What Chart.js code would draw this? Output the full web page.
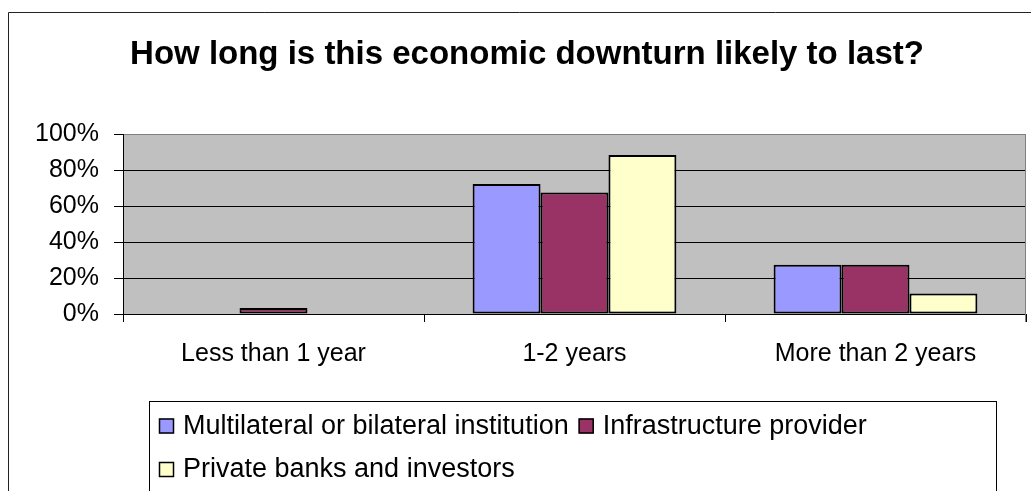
<!DOCTYPE html>
<html>
<head>
<meta charset="utf-8">
<title>How long is this economic downturn likely to last?</title>
<script src="https://cdn.jsdelivr.net/npm/chart.js@4"></script>
<style>
    body { margin: 0; background: #ffffff; }
    #wrap { width: 1031px; height: 491px; position: relative; }
</style>
</head>
<body>
<div id="wrap"><canvas id="bar-chart"></canvas></div>
<script>
// datos del grafico
const categories = ['Less than 1 year', '1-2 years', 'More than 2 years'];
const seriesNames = ['Multilateral or bilateral institution', 'Infrastructure provider', 'Private banks and investors'];
const multilateral = [0, 72.5, 27.5];
const infrastructure = [3.3, 67.7, 27.5];
const privateBanks = [0, 88.6, 11.4];
const yTickLabels = ['0%', '20%', '40%', '60%', '80%', '100%'];
const seriesColors = ['#9999FF', '#993366', '#FFFFCC'];

const FONT = 'Arial, "Liberation Sans", sans-serif';

// fondo gris del area de trazado y marco exterior
const plotFrame = {
    id: 'plotFrame',
    beforeDraw(chart) {
        const ctx = chart.ctx;
        const a = chart.chartArea;
        ctx.save();
        ctx.fillStyle = '#C0C0C0';
        ctx.fillRect(a.left, a.top, a.right - a.left, a.bottom - a.top);
        // marco del grafico (cortado a la derecha y abajo)
        ctx.strokeStyle = '#222222';
        ctx.lineWidth = 1;
        ctx.beginPath();
        ctx.moveTo(8.5, chart.height);
        ctx.lineTo(8.5, 12.5);
        ctx.lineTo(chart.width, 12.5);
        ctx.stroke();
        ctx.restore();
    },
    afterDatasetsDraw(chart) {
        const ctx = chart.ctx;
        const a = chart.chartArea;
        ctx.save();
        ctx.strokeStyle = '#808080';
        ctx.lineWidth = 1;
        ctx.beginPath();
        ctx.moveTo(Math.round(a.right) - 0.5, a.top);
        ctx.lineTo(Math.round(a.right) - 0.5, a.bottom + 8);
        ctx.stroke();
        ctx.restore();
    }
};

// leyenda con recuadro, como en Excel
const legendBox = {
    id: 'legendBox',
    afterDraw(chart) {
        const ctx = chart.ctx;
        ctx.save();
        ctx.strokeStyle = '#000000';
        ctx.lineWidth = 1;
        ctx.strokeRect(149.5, 401.5, 847, 200);
        ctx.font = '27px ' + FONT;
        ctx.textBaseline = 'middle';
        let x = 159, y = 425.5;
        chart.data.datasets.forEach(function (ds) {
            const w = ctx.measureText(ds.label).width;
            if (x + 24 + w > 990) { x = 159; y += 43.5; }
            ctx.fillStyle = ds.backgroundColor;
            ctx.fillRect(x, y - 7, 15, 15);
            ctx.lineWidth = 1.5;
            ctx.strokeStyle = '#000000';
            ctx.strokeRect(x + 0.5, y - 6.5, 14, 14);
            ctx.fillStyle = '#000000';
            ctx.fillText(ds.label, x + 24, y + 1);
            x += 24 + w + 10;
        });
        ctx.restore();
    }
};

function bar_report() {
    var canvas = document.getElementById('bar-chart');
    var ctx = canvas.getContext('2d');
    var series = [multilateral, infrastructure, privateBanks];
    var chart = new Chart(ctx, {
        type: 'bar',
        data: {
            labels: categories,
            datasets: series.map(function (values, i) {
                return {
                    label: seriesNames[i],
                    data: values,
                    backgroundColor: seriesColors[i],
                    borderColor: '#000000',
                    borderWidth: 2,
                    borderSkipped: false,
                    categoryPercentage: 0.677,
                    barPercentage: 1
                };
            })
        },
        options: {
            responsive: true,
            maintainAspectRatio: false,
            animation: false,
            layout: { padding: { left: 28, right: 5, top: 0, bottom: 117 } },
            plugins: {
                legend: { display: false },
                tooltip: { enabled: false },
                title: {
                    display: true,
                    text: 'How long is this economic downturn likely to last?',
                    color: '#000000',
                    font: { family: FONT, size: 33, weight: 'bold' },
                    padding: { top: 35, bottom: 60 }
                }
            },
            scales: {
                x: {
                    grid: {
                        display: true,
                        drawOnChartArea: false,
                        drawTicks: true,
                        tickLength: 8,
                        color: '#000000'
                    },
                    border: { color: '#000000', width: 1 },
                    ticks: {
                        color: '#000000',
                        padding: 17,
                        font: { family: FONT, size: 25 }
                    },
                    afterFit: function (scale) { scale.height = 60; }
                },
                y: {
                    min: 0,
                    max: 100,
                    grid: {
                        color: function (c) { return c.tick && c.tick.value === 100 ? '#808080' : '#000000'; },
                        tickColor: '#000000',
                        tickLength: 9,
                        lineWidth: 1
                    },
                    border: { color: '#000000', width: 1 },
                    ticks: {
                        stepSize: 20,
                        color: '#000000',
                        padding: 15,
                        font: { family: FONT, size: 25 },
                        callback: function (value, index) { return yTickLabels[index]; }
                    },
                    afterFit: function (scale) { scale.width = 95; }
                }
            }
        },
        plugins: [plotFrame, legendBox]
    });
    canvas.chart = chart;
}

bar_report();
</script>
</body>
</html>
